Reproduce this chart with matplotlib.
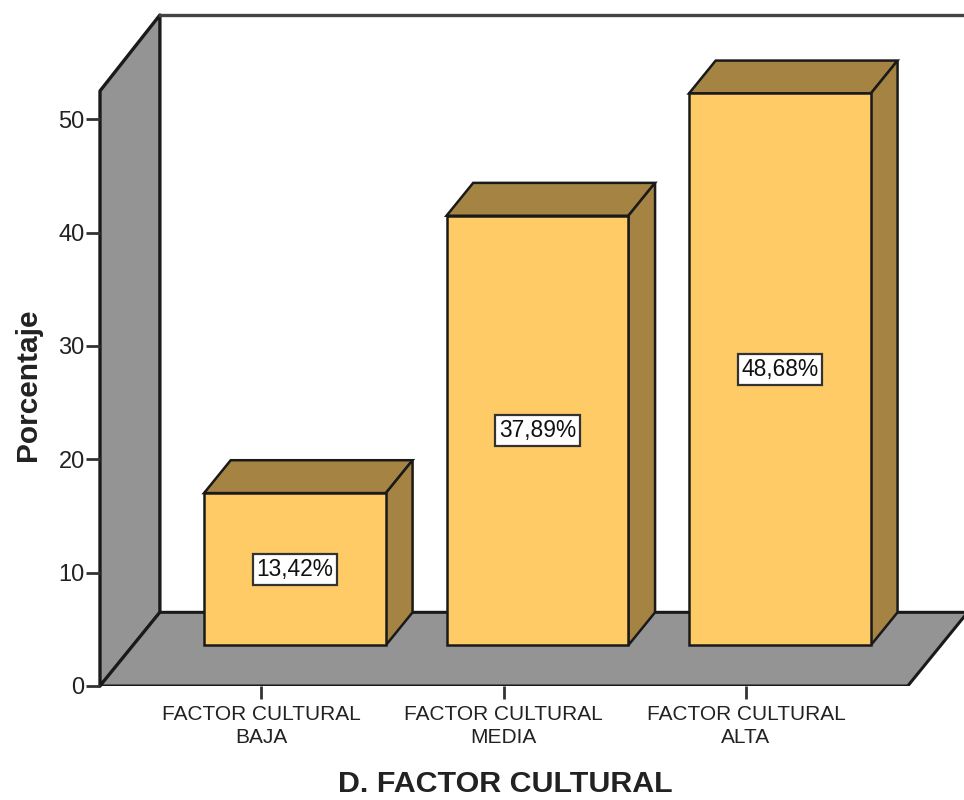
import matplotlib
matplotlib.use("Agg")
import matplotlib.pyplot as plt
from matplotlib.patches import Polygon

plt.rcParams['font.family'] = ['Liberation Sans', 'DejaVu Sans']

categorias = ["FACTOR CULTURAL\nBAJA", "FACTOR CULTURAL\nMEDIA", "FACTOR CULTURAL\nALTA"]
porcentajes = [13.42, 37.89, 48.68]
etiquetas = ["13,42%", "37,89%", "48,68%"]
marcas_y = [0, 10, 20, 30, 40, 50]

# colores estilo SPSS
BARRA = "#FFCB66"
LADO = "#A58342"
PARED = "#949494"
LINEA = "#1a1a1a"

# geometria de la perspectiva, en unidades de datos
ANCHO = 0.75
DESP_X = 0.14      # barra respecto a la marca del eje
BASE = 3.6         # altura de la base de la barra sobre el suelo
PROF_X = 0.11      # profundidad de la barra
PROF_Y = 2.9
PARED_X = 0.247    # profundidad de la pared
PARED_Y = 6.5
X_MIN, X_MAX = -0.664, 2.899
Y_TOP = 59.2

fig = plt.figure(figsize=(9.64, 8), dpi=100)
ax = fig.add_axes([100 / 964, 114 / 800, 864 / 964, 671 / 800])
ax.set_xlim(X_MIN, X_MAX)
ax.set_ylim(0, Y_TOP)

# pared izquierda y suelo
ax.add_patch(Polygon([(X_MIN, 0), (X_MIN, Y_TOP - PARED_Y - 0.2), (X_MIN + PARED_X, Y_TOP),
                      (X_MIN + PARED_X, PARED_Y)], fc=PARED, ec=LINEA, lw=2.4, zorder=1,
                     joinstyle="round", clip_on=False))
x_der = 2.667
ax.add_patch(Polygon([(X_MIN, 0), (x_der, 0), (x_der + PARED_X, PARED_Y),
                      (X_MIN + PARED_X, PARED_Y)], fc=PARED, ec=LINEA, lw=2.2, zorder=1,
                     joinstyle="round"))
ax.plot([X_MIN + PARED_X, X_MAX], [Y_TOP, Y_TOP], color="#444444", lw=2.4, zorder=1, clip_on=False)

# barras
xs = [i + DESP_X for i in range(len(porcentajes))]
ax.bar(xs, porcentajes, width=ANCHO, bottom=BASE, color=BARRA, edgecolor=LINEA, linewidth=1.8, zorder=3)
for x, v, txt in zip(xs, porcentajes, etiquetas):
    izq, der = x - ANCHO / 2, x + ANCHO / 2
    arriba = BASE + v
    ax.add_patch(Polygon([(izq, arriba), (der, arriba), (der + PROF_X, arriba + PROF_Y),
                          (izq + PROF_X, arriba + PROF_Y)], fc=LADO, ec=LINEA, lw=1.8, zorder=2.5))
    ax.add_patch(Polygon([(der, BASE), (der + PROF_X, BASE + PROF_Y), (der + PROF_X, arriba + PROF_Y),
                          (der, arriba)], fc=LADO, ec=LINEA, lw=1.8, zorder=2.5))
    ax.text(x, BASE + v / 2, txt, ha="center", va="center", fontsize=16.4, color="#111111", zorder=5,
            bbox=dict(boxstyle="square,pad=0.17", fc="white", ec="#333333", lw=1.6))

# ejes
for lado in ["top", "right", "bottom", "left"]:
    ax.spines[lado].set_visible(False)
ax.patch.set_visible(False)

ax.set_yticks(marcas_y)
ax.set_xticks(range(len(categorias)))
ax.set_xticklabels(categorias, fontsize=15, color="#222222", linespacing=1.3)
ax.tick_params(axis="y", length=10, width=2, color="#333333", labelsize=17, labelcolor="#222222", pad=1)
ax.tick_params(axis="x", length=9.5, width=2, color="#333333", pad=4)

ax.set_xlabel("D. FACTOR CULTURAL", fontsize=21.9, fontweight="bold", color="#222222")
ax.xaxis.set_label_coords((505 - 100) / 864, -(784 - 686) / 671, transform=ax.transAxes)
ax.xaxis.label.set_va("center")
ax.set_ylabel("Porcentaje", fontsize=21.5, fontweight="bold", color="#222222")
ax.yaxis.set_label_coords(-(100 - 28) / 864, (686 - 385) / 671, transform=ax.transAxes)
ax.yaxis.label.set_va("center")

fig.savefig("out.png", dpi=100)
